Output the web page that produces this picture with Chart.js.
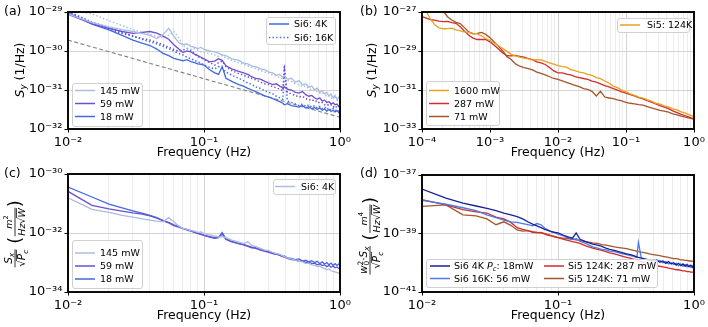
<!DOCTYPE html>
<html><head><meta charset="utf-8">
<script src="https://cdn.jsdelivr.net/npm/chart.js@4.4.1/dist/chart.umd.min.js"></script>
<style>
html,body{margin:0;padding:0;background:#fff;}
#wrap{position:relative;width:708px;height:327px;overflow:hidden;background:#fff;}
canvas{position:absolute;}
</style></head><body>
<div id="wrap">
<canvas id="ca" width="354" height="165" style="left:0;top:0;width:354px;height:165px"></canvas>
<canvas id="cb" width="354" height="165" style="left:354px;top:0;width:354px;height:165px"></canvas>
<canvas id="cc" width="354" height="165" style="left:0;top:162px;width:354px;height:165px"></canvas>
<canvas id="cd" width="354" height="165" style="left:354px;top:162px;width:354px;height:165px"></canvas>
</div>
<script>
// ---------------- DATA ----------------
// Frequencies (Hz) shared by panels (a), (c), (d)
const freqHz = [
 0.010,0.015,0.020,0.025,0.030,0.035,0.040,0.045,0.050,0.055,
 0.060,0.065,0.070,0.075,0.080,0.085,0.090,0.095,0.100,0.110,
 0.120,0.128,0.136,0.145,0.160,0.180,0.195,0.210,0.225,0.240,
 0.260,0.280,0.300,0.320,0.340,0.360,0.380,0.390,0.410,0.440,
 0.470,0.500,0.530,0.560,0.590,0.620,0.650,0.680,0.710,0.740,
 0.770,0.800,0.830,0.860,0.890,0.920,0.950,0.980,1.000];

// Panel (a): log10 of S_y (1/Hz)
const a_145mW_4K = [
 -29.05,-29.27,-29.38,-29.45,-29.50,-29.55,-29.60,-29.68,-29.58,-29.42,
 -29.62,-29.78,-29.84,-29.82,-29.88,-29.90,-29.94,-29.91,-29.96,-30.00,
 -30.02,-30.06,-30.10,-30.12,-30.20,-30.24,-30.31,-30.33,-30.39,-30.40,
 -30.46,-30.48,-30.54,-30.56,-30.62,-30.60,-30.67,-30.64,-30.72,-30.70,
 -30.80,-30.76,-30.87,-30.84,-30.93,-30.90,-31.00,-30.95,-31.06,-31.02,
 -31.10,-31.06,-31.16,-31.10,-31.20,-31.14,-31.24,-31.18,-31.26];
const a_59mW_4K = [
 -29.06,-29.30,-29.42,-29.50,-29.55,-29.52,-29.50,-29.54,-29.62,-29.70,
 -29.84,-29.94,-30.04,-30.00,-30.02,-30.08,-30.12,-30.16,-30.20,-30.28,
 -30.26,-30.20,-30.24,-30.38,-30.46,-30.52,-30.56,-30.60,-30.66,-30.70,
 -30.72,-30.78,-30.82,-30.86,-30.84,-30.90,-30.94,-30.92,-30.98,-31.00,
 -31.06,-31.08,-31.04,-31.12,-31.16,-31.14,-31.20,-31.24,-31.20,-31.28,
 -31.26,-31.32,-31.30,-31.36,-31.33,-31.38,-31.36,-31.42,-31.38];
const a_18mW_4K = [
 -29.02,-29.31,-29.46,-29.60,-29.72,-29.80,-29.86,-29.95,-30.06,-30.12,
 -30.19,-30.22,-30.25,-30.22,-30.27,-30.30,-30.33,-30.34,-30.36,-30.48,
 -30.56,-30.60,-30.40,-30.70,-30.78,-30.86,-30.90,-30.96,-31.00,-31.04,
 -31.10,-31.15,-31.18,-31.22,-31.26,-31.30,-31.34,-31.38,-31.35,-31.40,
 -31.42,-31.44,-31.40,-31.46,-31.43,-31.48,-31.45,-31.50,-31.46,-31.52,
 -31.48,-31.54,-31.50,-31.55,-31.52,-31.56,-31.53,-31.58,-31.55];
const a_145mW_16K = [
 -28.95,-29.05,-29.22,-29.35,-29.45,-29.52,-29.58,-29.62,-29.66,-29.60,
 -29.50,-29.65,-29.86,-29.92,-29.96,-29.94,-29.98,-30.02,-30.04,-30.06,
 -30.10,-30.14,-30.12,-30.18,-30.24,-30.30,-30.34,-30.38,-30.42,-30.45,
 -30.50,-30.54,-30.56,-30.62,-30.64,-30.68,-30.72,-30.70,-30.74,-30.78,
 -30.84,-30.86,-30.92,-30.90,-30.96,-31.00,-30.98,-31.04,-31.08,-31.06,
 -31.12,-31.16,-31.14,-31.20,-31.22,-31.20,-31.26,-31.28,-31.30];
const a_59mW_16K = [
 -29.00,-29.28,-29.44,-29.55,-29.62,-29.68,-29.72,-29.78,-29.84,-29.90,
 -29.96,-30.00,-29.98,-29.94,-29.98,-30.06,-30.14,-30.18,-30.22,-30.30,
 -30.36,-30.30,-30.26,-30.40,-30.50,-30.58,-30.62,-30.66,-30.70,-30.74,
 -30.80,-30.84,-30.86,-30.92,-30.94,-30.98,-31.02,-30.50,-31.06,-31.10,
 -31.14,-31.18,-31.16,-31.22,-31.26,-31.24,-31.30,-31.28,-31.34,-31.32,
 -31.38,-31.36,-31.40,-31.38,-31.44,-31.40,-31.46,-31.42,-31.45];
const a_18mW_16K = [
 -28.98,-29.26,-29.40,-29.52,-29.62,-29.70,-29.76,-29.82,-29.88,-29.94,
 -30.00,-30.06,-30.10,-30.16,-30.20,-30.24,-30.28,-30.32,-30.36,-30.42,
 -30.46,-30.40,-30.44,-30.54,-30.62,-30.70,-30.76,-30.82,-30.86,-30.92,
 -30.96,-31.02,-31.06,-31.10,-31.16,-31.20,-31.24,-30.36,-31.28,-31.32,
 -31.36,-31.40,-31.36,-31.42,-31.38,-31.44,-31.40,-31.46,-31.42,-31.48,
 -31.44,-31.50,-31.46,-31.52,-31.48,-31.53,-31.50,-31.55,-31.52];
// reference 1/f guide (dashed)
const a_refFreq = [0.01, 1.0];
const a_refLog  = [-29.72, -31.70];

// Panel (b): frequencies and log10 S_y
const freqHzB = [
 1.000e-4,1.155e-4,1.334e-4,1.540e-4,1.778e-4,2.054e-4,2.371e-4,2.738e-4,3.162e-4,3.652e-4,4.217e-4,4.870e-4,5.623e-4,6.494e-4,7.499e-4,8.660e-4,
 1.000e-3,1.155e-3,1.334e-3,1.540e-3,1.778e-3,2.054e-3,2.371e-3,2.738e-3,3.162e-3,3.652e-3,4.217e-3,4.870e-3,5.623e-3,6.494e-3,7.499e-3,8.660e-3,
 1.000e-2,1.155e-2,1.334e-2,1.540e-2,1.778e-2,2.054e-2,2.371e-2,2.738e-2,3.162e-2,3.652e-2,4.217e-2,4.870e-2,5.623e-2,6.494e-2,7.499e-2,8.660e-2,
 1.000e-1,1.155e-1,1.334e-1,1.540e-1,1.778e-1,2.054e-1,2.371e-1,2.738e-1,3.162e-1,3.652e-1,4.217e-1,4.870e-1,5.623e-1,6.494e-1,7.499e-1,8.660e-1,
 1.0];
const b_1600mW = [
 -26.81,-26.97,-27.37,-27.66,-27.81,-27.86,-27.85,-27.83,-27.92,-27.97,
 -28.02,-28.05,-28.10,-28.12,-28.22,-28.36,-28.46,-28.59,-28.73,-28.88,
 -29.02,-29.17,-29.25,-29.32,-29.37,-29.40,-29.47,-29.44,-29.46,-29.53,
 -29.61,-29.67,-29.75,-29.80,-29.83,-29.95,-30.01,-30.08,-30.12,-30.20,
 -30.25,-30.36,-30.42,-30.54,-30.64,-30.80,-30.88,-31.00,-31.10,-31.20,
 -31.27,-31.36,-31.41,-31.51,-31.57,-31.68,-31.72,-31.81,-31.87,-31.97,
 -32.02,-32.12,-32.19,-32.29,-32.36];
const b_287mW = [
 -27.24,-27.31,-27.39,-27.42,-27.47,-27.49,-27.48,-27.54,-27.58,-27.76,
 -27.98,-28.19,-28.34,-28.41,-28.40,-28.41,-28.53,-28.71,-28.90,-29.10,
 -29.24,-29.25,-29.22,-29.27,-29.32,-29.39,-29.44,-29.56,-29.61,-29.69,
 -29.85,-30.02,-30.12,-30.12,-30.19,-30.23,-30.31,-30.36,-30.41,-30.46,
 -30.54,-30.60,-30.69,-30.78,-30.84,-30.93,-31.01,-31.10,-31.16,-31.24,
 -31.30,-31.39,-31.45,-31.54,-31.62,-31.71,-31.80,-31.88,-31.96,-32.07,
 -32.16,-32.25,-32.32,-32.40,-32.49];
const b_71mW = [
 -26.30,-26.40,-26.55,-26.70,-26.85,-26.95,-27.24,-27.41,-27.53,-27.59,
 -27.80,-28.02,-28.12,-28.10,-28.05,-28.15,-28.32,-28.53,-28.76,-29.00,
 -29.29,-29.44,-29.66,-29.78,-29.85,-29.90,-29.97,-30.08,-30.15,-30.22,
 -30.32,-30.41,-30.46,-30.53,-30.61,-30.69,-30.76,-30.83,-30.93,-30.97,
 -31.07,-31.31,-31.07,-31.36,-31.41,-31.44,-31.51,-31.56,-31.63,-31.68,
 -31.71,-31.75,-31.78,-31.85,-31.92,-31.98,-32.05,-32.08,-32.14,-32.22,
 -32.27,-32.34,-32.39,-32.44,-32.49];

// Panel (c): log10 of S_x/sqrt(Pc)
const c_145mW = [
 -30.81,-31.20,-31.30,-31.40,-31.46,-31.52,-31.56,-31.60,-31.62,-31.48,
 -31.62,-31.76,-31.84,-31.88,-31.92,-31.94,-31.98,-31.96,-32.02,-32.06,
 -32.10,-32.14,-32.12,-32.16,-32.24,-32.30,-32.36,-32.30,-32.42,-32.46,
 -32.52,-32.58,-32.60,-32.66,-32.70,-32.72,-32.78,-32.80,-32.84,-32.88,
 -32.92,-32.96,-32.98,-33.04,-33.02,-33.08,-33.10,-33.14,-33.12,-33.18,
 -33.20,-33.24,-33.22,-33.28,-33.30,-33.32,-33.34,-33.36,-33.38];
const c_59mW = [
 -30.59,-31.06,-31.18,-31.26,-31.32,-31.36,-31.42,-31.50,-31.58,-31.64,
 -31.72,-31.78,-31.84,-31.90,-31.94,-31.98,-32.02,-32.05,-32.08,-32.12,
 -32.16,-32.14,-32.04,-32.22,-32.30,-32.36,-32.40,-32.45,-32.50,-32.52,
 -32.58,-32.62,-32.66,-32.70,-32.72,-32.76,-32.80,-32.82,-32.86,-32.90,
 -32.92,-32.96,-32.94,-33.00,-32.98,-33.04,-33.02,-33.08,-33.05,-33.10,
 -33.08,-33.14,-33.10,-33.16,-33.12,-33.18,-33.15,-33.20,-33.22];
const c_18mW = [
 -30.44,-30.78,-31.02,-31.15,-31.25,-31.33,-31.40,-31.48,-31.58,-31.66,
 -31.75,-31.80,-31.85,-31.88,-31.92,-31.96,-32.00,-32.04,-32.08,-32.14,
 -32.18,-32.16,-31.98,-32.20,-32.28,-32.36,-32.38,-32.44,-32.48,-32.50,
 -32.56,-32.60,-32.64,-32.68,-32.72,-32.74,-32.80,-32.78,-32.84,-32.86,
 -32.90,-32.88,-32.95,-32.92,-32.98,-32.94,-33.00,-32.96,-33.04,-32.98,
 -33.05,-33.00,-33.08,-33.02,-33.10,-33.04,-33.10,-33.05,-33.12];

// Panel (d): log10 of w0^2 S_x/sqrt(Pc)
const d_Si6_4K_18mW = [
 -37.48,-37.79,-37.96,-38.06,-38.14,-38.22,-38.30,-38.36,-38.42,-38.50,
 -38.60,-38.68,-38.74,-38.80,-38.86,-38.90,-38.94,-38.96,-38.98,-39.06,
 -39.12,-39.16,-38.98,-39.20,-39.28,-39.36,-39.40,-39.44,-39.50,-39.54,
 -39.58,-39.62,-39.66,-39.70,-39.72,-39.76,-39.80,-39.82,-39.84,-39.88,
 -39.92,-39.94,-39.90,-39.98,-39.94,-40.02,-39.96,-40.04,-40.00,-40.08,
 -40.02,-40.10,-40.04,-40.12,-40.06,-40.14,-40.08,-40.16,-40.10];
const d_Si6_16K_56mW = [
 -37.87,-38.00,-38.12,-38.22,-38.36,-38.46,-38.54,-38.60,-38.62,-38.66,
 -38.70,-38.74,-38.66,-38.70,-38.82,-38.88,-38.94,-38.98,-39.02,-39.08,
 -39.16,-39.20,-39.18,-39.26,-39.34,-39.46,-39.50,-39.54,-39.56,-39.60,
 -39.62,-39.66,-39.70,-39.72,-39.76,-39.78,-39.82,-39.30,-39.84,-39.88,
 -39.90,-39.94,-39.96,-39.92,-40.00,-39.96,-40.04,-40.00,-40.06,-40.02,
 -40.10,-40.04,-40.12,-40.06,-40.14,-40.08,-40.16,-40.10,-40.14];
const d_Si5_124K_287mW = [
 -37.84,-38.02,-38.18,-38.26,-38.30,-38.44,-38.50,-38.62,-38.80,-38.86,
 -38.90,-38.94,-38.96,-38.98,-39.02,-39.06,-39.08,-39.12,-39.14,-39.20,
 -39.24,-39.28,-39.30,-39.34,-39.42,-39.50,-39.54,-39.58,-39.62,-39.66,
 -39.70,-39.74,-39.78,-39.82,-39.84,-39.88,-39.90,-39.92,-39.96,-40.00,
 -40.04,-40.06,-40.10,-40.12,-40.14,-40.16,-40.18,-40.20,-40.22,-40.24,
 -40.24,-40.26,-40.28,-40.28,-40.30,-40.30,-40.32,-40.32,-40.34];
const d_Si5_124K_71mW = [
 -38.07,-38.02,-38.36,-38.40,-38.50,-38.70,-38.60,-38.72,-38.88,-38.92,
 -38.90,-38.96,-38.98,-38.96,-39.00,-39.04,-39.08,-39.10,-39.14,-39.16,
 -39.18,-39.20,-39.22,-39.24,-39.28,-39.32,-39.34,-39.38,-39.40,-39.42,
 -39.46,-39.48,-39.50,-39.52,-39.55,-39.58,-39.60,-39.62,-39.64,-39.66,
 -39.70,-39.72,-39.74,-39.76,-39.78,-39.80,-39.82,-39.84,-39.86,-39.86,
 -39.88,-39.90,-39.90,-39.92,-39.92,-39.94,-39.94,-39.95,-39.96];

// Tick values and labels
const xTicks01 = [1e-2, 1e-1, 1e0];
const xTickLabels01 = ['10⁻²','10⁻¹','10⁰'];
const xTicksB = [1e-4, 1e-3, 1e-2, 1e-1, 1e0];
const xTickLabelsB = ['10⁻⁴','10⁻³','10⁻²','10⁻¹','10⁰'];
const yTicksA = [1e-32, 1e-31, 1e-30, 1e-29];
const yTickLabelsA = ['10⁻³²','10⁻³¹','10⁻³⁰','10⁻²⁹'];
const yTicksB = [1e-33, 1e-31, 1e-29, 1e-27];
const yTickLabelsB = ['10⁻³³','10⁻³¹','10⁻²⁹','10⁻²⁷'];
const yTicksC = [1e-34, 1e-32, 1e-30];
const yTickLabelsC = ['10⁻³⁴','10⁻³²','10⁻³⁰'];
const yTicksD = [1e-41, 1e-39, 1e-37];
const yTickLabelsD = ['10⁻⁴¹','10⁻³⁹','10⁻³⁷'];

// Legend texts
const powersA = ['145 mW', '59 mW', '18 mW'];
const tempsA = ['Si6: 4K', 'Si6: 16K'];
const powersB = ['1600 mW', '287 mW', '71 mW'];
const sampleB = 'Si5: 124K';
const sampleC = 'Si6: 4K';

// ---------------- STYLE ----------------
const FONT = '"DejaVu Sans", sans-serif';
Chart.defaults.font.family = FONT;
Chart.defaults.color = '#000';
const COL = {
  light: '#a8bde0', purple: '#6c4fd3', royal: '#4169e1', gray: '#808080',
  orange: '#e5a31c', red: '#d42b2b', brown: '#a3552b', navy: '#1a2296', blue16: '#4a7be9'
};
const DOT = [1.4, 2.2];

// ---------------- HELPERS ----------------
function rich(ctx, segs, x, y, base, draw) {
  let cx = x, prevStart = x, ov = null;
  for (const s of segs) {
    const small = s.sub || s.sup;
    const size = s.size || (small ? base * 0.7 : base);
    ctx.font = (s.it ? 'italic ' : '') + size + 'px ' + FONT;
    const w = ctx.measureText(s.t).width;
    const sx = s.stack ? prevStart : cx;
    const dy = s.sub ? base * 0.2 : (s.sup ? -base * 0.4 : 0);
    if (draw) ctx.fillText(s.t, sx, y + dy);
    if (s.over) { if (!ov) ov = [sx, sx + w]; else ov[1] = Math.max(ov[1], sx + w); }
    if (!s.stack) prevStart = sx;
    cx = Math.max(cx, sx + w);
  }
  if (draw && ov) {
    ctx.save(); ctx.lineWidth = 0.8; ctx.strokeStyle = '#000';
    ctx.beginPath(); ctx.moveTo(ov[0] - 0.5, y - base * 0.86); ctx.lineTo(ov[1], y - base * 0.86); ctx.stroke();
    ctx.restore();
  }
  return cx - x;
}
function itemW(ctx, it) {
  if (it.type === 'text') return rich(ctx, it.segs, 0, 0, it.base, false);
  if (it.type === 'frac') return Math.max(rich(ctx, it.num, 0, 0, it.base, false), rich(ctx, it.den, 0, 0, it.base, false)) + 2;
  if (it.type === 'paren') { ctx.font = it.size + 'px ' + FONT; return ctx.measureText(it.t).width; }
  return it.w;
}
function drawItem(ctx, it, u, w) {
  if (it.type === 'text') rich(ctx, it.segs, u, it.v, it.base, true);
  else if (it.type === 'frac') {
    const nw = rich(ctx, it.num, 0, 0, it.base, false), dw = rich(ctx, it.den, 0, 0, it.base, false);
    rich(ctx, it.num, u + (w - nw) / 2, -2.8, it.base, true);
    rich(ctx, it.den, u + (w - dw) / 2, it.base * 0.84 + 1.6, it.base, true);
    ctx.save(); ctx.lineWidth = 0.8; ctx.strokeStyle = '#000';
    ctx.beginPath(); ctx.moveTo(u + 0.5, 0); ctx.lineTo(u + w - 0.5, 0); ctx.stroke(); ctx.restore();
  } else if (it.type === 'paren') {
    ctx.font = it.size + 'px ' + FONT; ctx.fillText(it.t, u, it.size * 0.31);
  }
}
function drawRotTitle(ctx, cx, cy, items) {
  ctx.save(); ctx.translate(cx, cy); ctx.rotate(-Math.PI / 2);
  ctx.fillStyle = '#000'; ctx.textAlign = 'left'; ctx.textBaseline = 'alphabetic';
  const ws = items.map(it => itemW(ctx, it));
  let u = -ws.reduce((a, b) => a + b, 0) / 2;
  items.forEach((it, i) => { drawItem(ctx, it, u, ws[i]); u += ws[i]; });
  ctx.restore();
}
function drawLegend(ctx, lg) {
  ctx.save();
  const x = lg.x + 0.5, y = lg.y + 0.5, w = lg.w, h = lg.h, r = 2.5;
  ctx.beginPath();
  ctx.moveTo(x + r, y); ctx.lineTo(x + w - r, y); ctx.arcTo(x + w, y, x + w, y + r, r);
  ctx.lineTo(x + w, y + h - r); ctx.arcTo(x + w, y + h, x + w - r, y + h, r);
  ctx.lineTo(x + r, y + h); ctx.arcTo(x, y + h, x, y + h - r, r);
  ctx.lineTo(x, y + r); ctx.arcTo(x, y, x + r, y, r); ctx.closePath();
  ctx.fillStyle = 'rgba(255,255,255,0.85)'; ctx.fill();
  ctx.strokeStyle = '#d0d0d0'; ctx.lineWidth = 1; ctx.stroke();
  lg.items.forEach(it => {
    ctx.beginPath(); ctx.setLineDash(it.dash || []); ctx.strokeStyle = it.color; ctx.lineWidth = 1.5;
    ctx.moveTo(it.lx, it.ly); ctx.lineTo(it.lx + lg.hl, it.ly); ctx.stroke(); ctx.setLineDash([]);
    ctx.fillStyle = '#000'; ctx.textAlign = 'left'; ctx.textBaseline = 'alphabetic';
    rich(ctx, it.segs, it.lx + lg.hl + lg.gap, it.ly + lg.font * 0.36, lg.font, true);
  });
  ctx.restore();
}
const decor = {
  id: 'decor',
  afterDraw(chart, args, o) {
    const ctx = chart.ctx, ca = chart.chartArea;
    ctx.save();
    ctx.strokeStyle = '#000'; ctx.lineWidth = 1.9;
    ctx.strokeRect(ca.left, ca.top, ca.right - ca.left, ca.bottom - ca.top);
    (o.legends || []).forEach(lg => drawLegend(ctx, lg));
    ctx.fillStyle = '#000'; ctx.font = '12.5px ' + FONT; ctx.textBaseline = 'middle'; ctx.textAlign = 'left';
    ctx.fillText(o.letter, o.letterX, o.letterY);
    drawRotTitle(ctx, o.titleX, o.titleY, o.title);
    ctx.restore();
  }
};
function buildLogTicks(minE, maxE, labelled, minor) {
  const t = [];
  for (let e = minE; e <= maxE; e++) {
    const v = Number('1e' + e);
    if (labelled.some(l => Math.abs(Math.log10(l) - e) < 1e-6)) t.push({ value: v, lab: true, major: true });
    if (minor && e < maxE) for (let k = 2; k <= 9; k++) t.push({ value: Number(k + 'e' + e), lab: false, major: false });
  }
  return t.sort((a, b) => a.value - b.value);
}
function logAxis(isX, minE, maxE, tickVals, tickLabels, minor, fitSize, titlePad) {
  return {
    type: 'logarithmic', position: isX ? 'bottom' : 'left',
    min: Number('1e' + minE), max: Number('1e' + maxE),
    afterBuildTicks: s => { s.ticks = buildLogTicks(minE, maxE, tickVals, minor); },
    afterFit: s => { if (isX) s.height = fitSize; else s.width = fitSize; },
    ticks: {
      autoSkip: false, maxRotation: 0, minRotation: 0, color: '#000', font: { size: 13 }, padding: 2,
      callback: v => { const i = tickVals.findIndex(t => Math.abs(Math.log10(t) - Math.log10(v)) < 1e-6); return i >= 0 ? tickLabels[i] : ''; }
    },
    grid: {
      color: c => (c.tick && c.tick.lab) ? '#d4d4d4' : (minor ? '#ececec' : 'rgba(0,0,0,0)'),
      lineWidth: 1, tickLength: 3.5,
      tickColor: c => (c.tick && c.tick.lab) ? '#000' : 'rgba(0,0,0,0)', tickWidth: 1
    },
    border: { display: false },
    title: isX ? { display: true, text: 'Frequency (Hz)', color: '#000', font: { size: 12.5 }, padding: { top: 0, bottom: titlePad } } : { display: false }
  };
}
function ds(label, xs, logs, color, dash, width) {
  return {
    label, data: xs.map((x, i) => ({ x, y: Math.pow(10, logs[i]) })),
    borderColor: color, backgroundColor: color, borderWidth: width || 1.3, borderDash: dash || [],
    pointRadius: 0, fill: false, tension: 0
  };
}
function makeChart(id, datasets, xOpt, yOpt, decorOpt, padTop) {
  return new Chart(document.getElementById(id), {
    type: 'line',
    data: { datasets },
    options: {
      responsive: false, animation: false, devicePixelRatio: 1, events: [],
      layout: { padding: { left: 0, top: padTop, right: 14, bottom: 0 } },
      plugins: { legend: { display: false }, tooltip: { enabled: false }, decor: decorOpt },
      scales: { x: xOpt, y: yOpt }
    },
    plugins: [decor]
  });
}
const T = t => [{ t }];
const fracTitle = (num, sup) => [
  { type: 'frac', base: 10.5, num, den: [{ t: '√' }, { t: 'P', it: 1, over: 1 }, { t: 'c', it: 1, sub: 1, over: 1 }] },
  { type: 'space', w: 5 },
  { type: 'paren', t: '(', size: 18 },
  { type: 'frac', base: 9.5, num: [{ t: 'm', it: 1 }, { t: sup, sup: 1 }], den: [{ t: 'Hz', it: 1 }, { t: '√' }, { t: 'W', it: 1, over: 1 }] },
  { type: 'paren', t: ')', size: 18 }
];

// ---------------- PANEL (a) ----------------
makeChart('ca', [
  ds('145 mW 4K', freqHz, a_145mW_4K, COL.light),
  ds('59 mW 4K', freqHz, a_59mW_4K, COL.purple),
  ds('18 mW 4K', freqHz, a_18mW_4K, COL.royal),
  ds('145 mW 16K', freqHz, a_145mW_16K, COL.light, DOT, 1.5),
  ds('59 mW 16K', freqHz, a_59mW_16K, COL.purple, DOT, 1.5),
  ds('18 mW 16K', freqHz, a_18mW_16K, COL.royal, DOT, 1.5),
  ds('1/f', a_refFreq, a_refLog, COL.gray, [4, 2.5], 1.1)
],
  logAxis(true, -2, 0, xTicks01, xTickLabels01, true, 36, 4.5),
  logAxis(false, -32, -29, yTicksA, yTickLabelsA, false, 68),
  {
    letter: '(a)', letterX: 4, letterY: 12, titleX: 19, titleY: 70,
    title: [{ type: 'text', v: 4.5, base: 12.5, segs: [{ t: 'S', it: 1 }, { t: 'y', it: 1, sub: 1 }, { t: ' (1/Hz)' }] }],
    legends: [
      { x: 72, y: 83, w: 70, h: 43, hl: 20, gap: 5, font: 9.5, items: [
        { color: COL.light, segs: T(powersA[0]), lx: 75, ly: 90.5 },
        { color: COL.purple, segs: T(powersA[1]), lx: 75, ly: 103.5 },
        { color: COL.royal, segs: T(powersA[2]), lx: 75, ly: 116.5 }] },
      { x: 266, y: 17, w: 69, h: 27, hl: 20, gap: 5, font: 9.5, items: [
        { color: COL.royal, segs: T(tempsA[0]), lx: 269, ly: 24 },
        { color: COL.royal, dash: DOT, segs: T(tempsA[1]), lx: 269, ly: 37.5 }] }
    ]
  }, 12);

// ---------------- PANEL (b) ----------------
makeChart('cb', [
  ds('1600 mW', freqHzB, b_1600mW, COL.orange),
  ds('287 mW', freqHzB, b_287mW, COL.red),
  ds('71 mW', freqHzB, b_71mW, COL.brown)
],
  logAxis(true, -4, 0, xTicksB, xTickLabelsB, true, 36, 4.5),
  logAxis(false, -33, -27, yTicksB, yTickLabelsB, false, 68),
  {
    letter: '(b)', letterX: 6, letterY: 12, titleX: 17, titleY: 70,
    title: [{ type: 'text', v: 4.5, base: 12.5, segs: [{ t: 'S', it: 1 }, { t: 'y', it: 1, sub: 1 }, { t: ' (1/Hz)' }] }],
    legends: [
      { x: 72, y: 81, w: 73, h: 44, hl: 20, gap: 5, font: 9.5, items: [
        { color: COL.orange, segs: T(powersB[0]), lx: 75, ly: 90.5 },
        { color: COL.red, segs: T(powersB[1]), lx: 75, ly: 103.5 },
        { color: COL.brown, segs: T(powersB[2]), lx: 75, ly: 116.5 }] },
      { x: 263, y: 18, w: 72, h: 14, hl: 20, gap: 7, font: 9.5, items: [
        { color: COL.orange, segs: T(sampleB), lx: 266, ly: 25 }] }
    ]
  }, 12);

// ---------------- PANEL (c) ----------------
makeChart('cc', [
  ds('145 mW', freqHz, c_145mW, COL.light),
  ds('59 mW', freqHz, c_59mW, COL.purple),
  ds('18 mW', freqHz, c_18mW, COL.royal)
],
  logAxis(true, -2, 0, xTicks01, xTickLabels01, true, 35, 3.5),
  logAxis(false, -34, -30, yTicksC, yTickLabelsC, false, 68),
  {
    letter: '(c)', letterX: 4, letterY: 12, titleX: 15, titleY: 72,
    title: fracTitle([{ t: 'S', it: 1 }, { t: 'x', it: 1, sub: 1 }], '2'),
    legends: [
      { x: 72, y: 78, w: 70, h: 48, hl: 20, gap: 5, font: 9.5, items: [
        { color: COL.light, segs: T(powersA[0]), lx: 75, ly: 91 },
        { color: COL.purple, segs: T(powersA[1]), lx: 75, ly: 104 },
        { color: COL.royal, segs: T(powersA[2]), lx: 75, ly: 117 }] },
      { x: 273, y: 17, w: 62, h: 15, hl: 20, gap: 6, font: 9.5, items: [
        { color: COL.light, segs: T(sampleC), lx: 275, ly: 24.5 }] }
    ]
  }, 12);

// ---------------- PANEL (d) ----------------
makeChart('cd', [
  ds('Si6 4K Pc: 18mW', freqHz, d_Si6_4K_18mW, COL.navy),
  ds('Si6 16K: 56 mW', freqHz, d_Si6_16K_56mW, COL.blue16),
  ds('Si5 124K: 287 mW', freqHz, d_Si5_124K_287mW, COL.red),
  ds('Si5 124K: 71 mW', freqHz, d_Si5_124K_71mW, COL.brown)
],
  logAxis(true, -2, 0, xTicks01, xTickLabels01, true, 35, 3.5),
  logAxis(false, -41, -37, yTicksD, yTickLabelsD, false, 68),
  {
    letter: '(d)', letterX: 6, letterY: 12, titleX: 16, titleY: 74,
    title: fracTitle([{ t: 'w', it: 1 }, { t: '0', sub: 1 }, { t: '2', sup: 1, stack: 1 }, { t: '·' }, { t: 'S', it: 1 }, { t: 'x', it: 1, sub: 1 }], '4'),
    legends: [
      { x: 72, y: 97, w: 231, h: 28, hl: 20, gap: 4, font: 9.5, items: [
        { color: COL.navy, segs: [{ t: 'Si6 4K ' }, { t: 'P', it: 1 }, { t: 'c', it: 1, sub: 1 }, { t: ': 18mW' }], lx: 76, ly: 104 },
        { color: COL.blue16, segs: T('Si6 16K: 56 mW'), lx: 76, ly: 116.5 },
        { color: COL.red, segs: T('Si5 124K: 287 mW'), lx: 190, ly: 104 },
        { color: COL.brown, segs: T('Si5 124K: 71 mW'), lx: 190, ly: 116.5 }] }
    ]
  }, 13);
</script>
</body></html>
